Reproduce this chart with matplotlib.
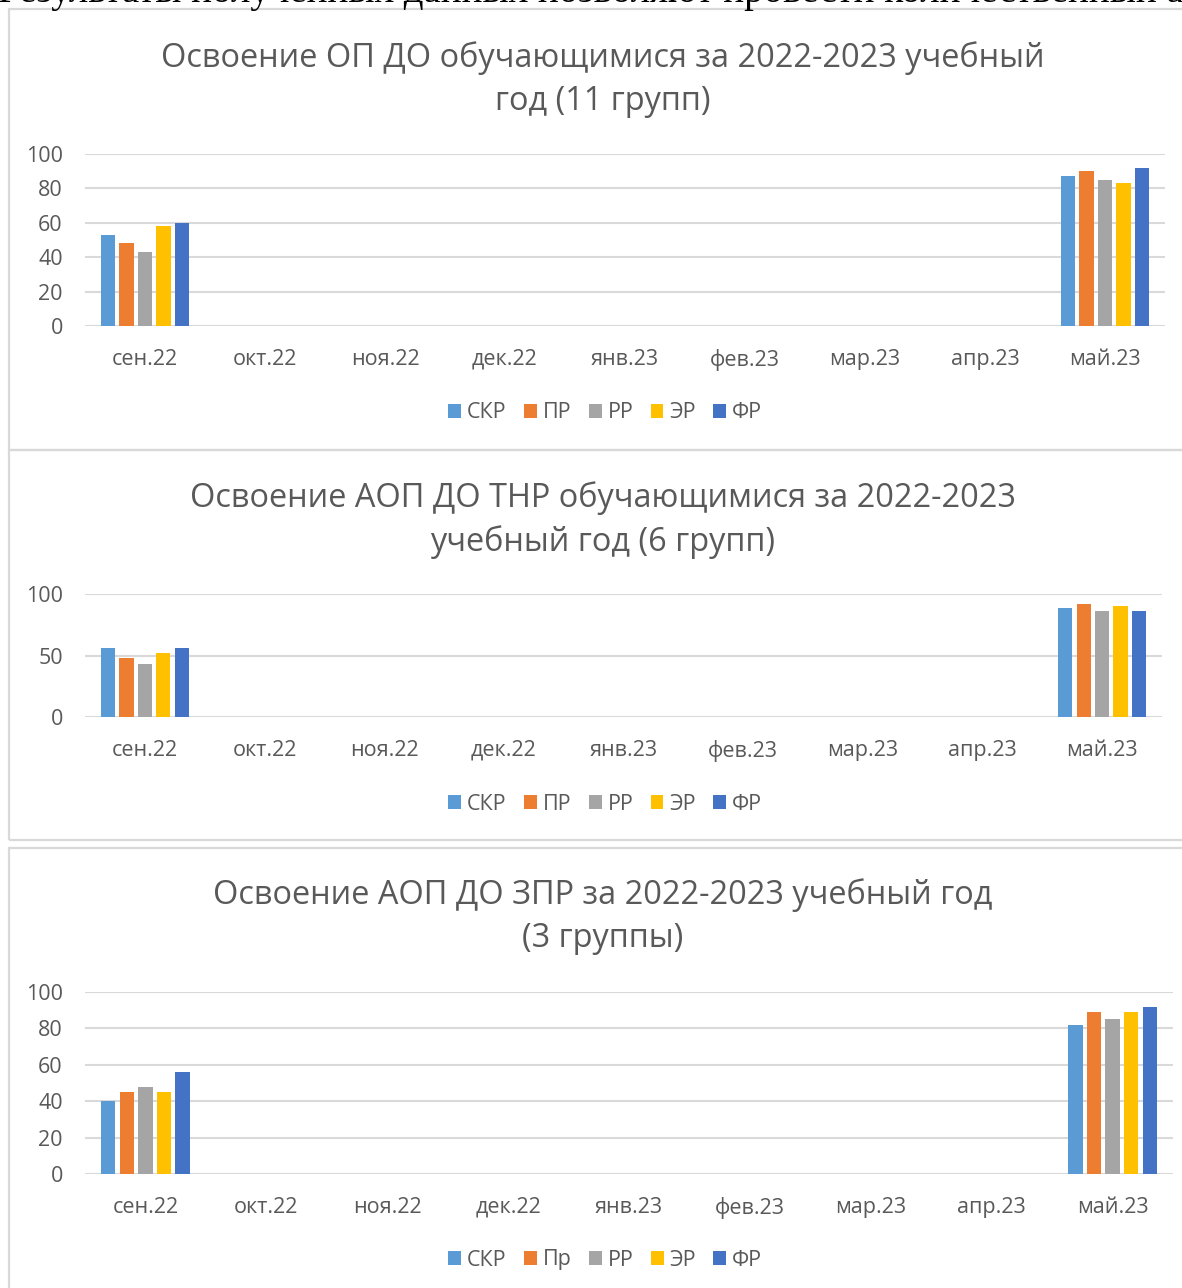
import matplotlib
matplotlib.use("Agg")
import matplotlib.pyplot as plt
from matplotlib.patches import Rectangle
import numpy as np

plt.rcParams['font.family'] = ['Open Sans', 'DejaVu Sans']

months = ['сен.22', 'окт.22', 'ноя.22', 'дек.22', 'янв.23', 'фев.23', 'мар.23', 'апр.23', 'май.23']
series1 = ['СКР', 'ПР', 'РР', 'ЭР', 'ФР']
series3 = ['СКР', 'Пр', 'РР', 'ЭР', 'ФР']
colors = ['#5B9BD5', '#ED7D31', '#A5A5A5', '#FFC000', '#4472C4']

# values for sept and may only, other months empty
op_sep = [53, 48, 43, 58, 60]
op_may = [87, 90, 85, 83, 92]
thr_sep = [56, 48, 43, 52, 56]
thr_may = [89, 92, 86, 90, 86]
zpr_sep = [40, 45, 48, 45, 56]
zpr_may = [82, 89, 85, 89, 92]

title1 = 'Освоение ОП ДО обучающимися за 2022-2023 учебный\nгод (11 групп)'
title2 = 'Освоение АОП ДО ТНР обучающимися за 2022-2023\nучебный год (6 групп)'
title3 = 'Освоение АОП ДО ЗПР за 2022-2023 учебный год\n(3 группы)'

W, H = 1182, 1288
fig = plt.figure(figsize=(W / 100, H / 100), dpi=100)
txt = '#595959'
grid = '#D9D9D9'


def px(x0, y0, x1, y1):
    # pixel box (top-left origin) -> figure fraction
    return [x0 / W, 1 - y1 / H, (x1 - x0) / W, (y1 - y0) / H]


def box(y0, y1):
    r = Rectangle((9 / W, 1 - y1 / H), 1.2, (y1 - y0) / H, transform=fig.transFigure,
                  fill=False, edgecolor=grid, linewidth=1.6, zorder=0)
    fig.patches.append(r)


def chart(axbox, title, title_y, sep, may, labels, ticks, legend_y):
    ax = fig.add_axes(px(*axbox))
    x = np.arange(len(months))
    w = 0.12
    pitch = 0.154
    for i in range(5):
        vals = [np.nan] * len(months)
        vals[0] = sep[i]
        vals[-1] = may[i]
        ax.bar(x + (i - 2) * pitch, vals, width=w, color=colors[i], label=labels[i], zorder=3)
    ax.set_xlim(-0.5, len(months) - 0.5)
    ax.set_ylim(0, 100)
    ax.set_yticks(ticks)
    ax.set_xticks(x)
    ax.set_xticklabels(months)
    ax.tick_params(axis='x', length=0, pad=16.5, labelsize=15.5, labelcolor=txt)
    ax.tick_params(axis='y', length=0, pad=16, labelsize=15.5, labelcolor=txt)
    ax.grid(axis='y', color=grid, linewidth=1.5, zorder=0)
    for s in ax.spines.values():
        s.set_visible(False)
    fig.text(0.51, 1 - title_y / H, title, ha='center', va='center', fontsize=23.4,
             color=txt, linespacing=1.4)
    ax.legend(loc='center', bbox_to_anchor=(0.512, 1 - legend_y / H), bbox_transform=fig.transFigure,
              ncol=5, frameon=False, fontsize=15.5, labelcolor=txt, handlelength=0.6,
              handleheight=0.6, handletextpad=0.28, columnspacing=0.8)
    return ax


box(9, 450)
box(450, 840)
box(848, 1300)

# bottom edge of the document line above the charts
fig.text(-0.002, 1 - 2 / H, 'Результаты полученных данных позволяют провести количественный анализ',
         family='Liberation Serif', fontsize=28, va='baseline', ha='left', color='black')

chart((85, 154, 1165, 326), title1, 80, op_sep, op_may, series1, [0, 20, 40, 60, 80, 100], 413)
chart((85, 594, 1162, 717), title2, 520, thr_sep, thr_may, series1, [0, 50, 100], 804)
chart((85, 992, 1173, 1174), title3, 917, zpr_sep, zpr_may, series3, [0, 20, 40, 60, 80, 100], 1260)

fig.savefig('out.png', dpi=100)
